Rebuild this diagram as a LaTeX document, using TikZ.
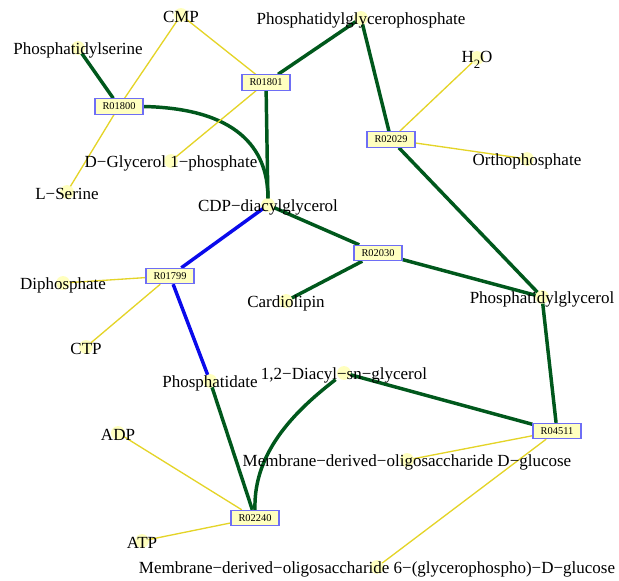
\documentclass[tikz,border=0pt]{standalone}
\usepackage{fontspec}
\setmainfont{Liberation Serif}
\pgfdeclarelayer{bg}
\pgfsetlayers{bg,main}
\definecolor{mainflow}{RGB}{0,88,28}
\definecolor{sideflow}{RGB}{228,212,40}
\definecolor{blueflow}{RGB}{10,10,235}
\definecolor{dotfill}{RGB}{255,255,190}
\definecolor{rxnfill}{RGB}{255,255,192}
\definecolor{rxnborder}{RGB}{110,110,245}
\tikzset{
  cpd/.style={inner sep=0pt, anchor=center, yshift=-1.5pt, font=\fontsize{12.75}{14}\selectfont},
  rxn/.style={draw=rxnborder, fill=rxnfill, line width=0.8pt, minimum width=36pt,
    minimum height=11.5pt, inner sep=0pt, font=\fontsize{7.8}{9}\selectfont},
  main/.style={draw=mainflow, line width=2.6pt},
  side/.style={draw=sideflow, line width=1pt},
  blue/.style={draw=blueflow, line width=2.6pt},
  tocpd/.style={shorten >=5pt},
}
\begin{document}
\begin{tikzpicture}[x=0.75pt,y=-0.75pt]
\useasboundingbox (0,0) rectangle (619,581);

% compounds (labels sit slightly below their anchor point)
\coordinate (cmp)  at (181,15);
\coordinate (pgp)  at (361,18);
\coordinate (ps)   at (78,48);
\coordinate (h2o)  at (477,58);
\coordinate (g1p)  at (171,161);
\coordinate (pi)   at (527,159);
\coordinate (ser)  at (67,192);
\coordinate (cdp)  at (268,205);
\coordinate (cl)   at (286,301);
\coordinate (pg)   at (542,297);
\coordinate (ppi)  at (63,283);
\coordinate (ctp)  at (86,347);
\coordinate (pa)   at (210,381);
\coordinate (dag)  at (344,373);
\coordinate (adp)  at (118,433);
\coordinate (atp)  at (142,541);
\coordinate (mdo)  at (407,460);
\coordinate (mdop) at (377,567);

\node[cpd] (cmpL)  at (cmp)  {CMP};
\node[cpd] (pgpL)  at (pgp)  {Phosphatidylglycerophosphate};
\node[cpd] (psL)   at (ps)   {Phosphatidylserine};
\node[cpd] (h2oL)  at (h2o)  {H\raisebox{-4pt}{\fontsize{9.5}{10}\selectfont 2}O};
\node[cpd] (g1pL)  at (g1p)  {D−Glycerol 1−phosphate};
\node[cpd] (piL)   at (pi)   {Orthophosphate};
\node[cpd] (serL)  at (ser)  {L−Serine};
\node[cpd] (cdpL)  at (cdp)  {CDP−diacylglycerol};
\node[cpd] (clL)   at (cl)   {Cardiolipin};
\node[cpd] (pgL)   at (pg)   {Phosphatidylglycerol};
\node[cpd] (ppiL)  at (ppi)  {Diphosphate};
\node[cpd] (ctpL)  at (ctp)  {CTP};
\node[cpd] (paL)   at (pa)   {Phosphatidate};
\node[cpd] (dagL)  at (dag)  {1,2−Diacyl−sn−glycerol};
\node[cpd] (adpL)  at (adp)  {ADP};
\node[cpd] (atpL)  at (atp)  {ATP};
\node[cpd] (mdoL)  at (mdo)  {Membrane−derived−oligosaccharide D−glucose};
\node[cpd] (mdopL) at (mdop) {Membrane−derived−oligosaccharide 6−(glycerophospho)−D−glucose};

% reactions
\node[rxn] (r01800) at (119,106.5) {R01800};
\node[rxn] (r01801) at (266,82.5)  {R01801};
\node[rxn] (r02029) at (391,139.5) {R02029};
\node[rxn] (r01799) at (170,276)   {R01799};
\node[rxn] (r02030) at (378,253)   {R02030};
\node[rxn] (r02240) at (255,518)   {R02240};
\node[rxn] (r04511) at (557,431)   {R04511};

\begin{pgfonlayer}{bg}
  % highlight dots behind the compound labels
  \foreach \c in {cmp,pgp,ps,h2o,g1p,pi,ser,cdp,cl,pg,ppi,ctp,pa,dag,adp,atp,mdo,mdop}
    \fill[dotfill] (\c) circle (5.2pt);

  % R01800
  \draw[main,tocpd] (r01800) -- (ps);
  \draw[main,tocpd] (r01800.east) .. controls +(92,2) and +(0,-58) .. (cdp);
  \draw[side,tocpd] (r01800) -- (cmp);
  \draw[side,tocpd] (r01800) -- (ser);
  % R01801
  \draw[side,tocpd] (r01801) -- (cmp);
  \draw[side,tocpd] (r01801) -- (g1p);
  \draw[main,tocpd] (r01801) -- (cdp);
  \draw[main,tocpd] (r01801) -- (pgp);
  % R02029
  \draw[main,tocpd] (r02029) -- (pgp);
  \draw[side,tocpd] (r02029) -- (h2o);
  \draw[side,tocpd] (r02029) -- (pi);
  \draw[main,tocpd] (r02029) -- (pg);
  % R02030
  \draw[main,tocpd] (r02030) -- (cdp);
  \draw[main,tocpd] (r02030) -- (cl);
  \draw[main,tocpd] (r02030) -- (pg);
  % R01799
  \draw[blue,tocpd] (r01799) -- (cdp);
  \draw[blue,tocpd] (r01799) -- (pa);
  \draw[side,tocpd] (r01799) -- (ppi);
  \draw[side,tocpd] (r01799) -- (ctp);
  % R02240
  \draw[main,tocpd] (r02240) -- (pa);
  \draw[main,shorten >=8pt] (r02240.north) .. controls +(-2,-60) and +(-45,35) .. (dag);
  \draw[side,tocpd] (r02240) -- (adp);
  \draw[side,tocpd] (r02240) -- (atp);
  % R04511
  \draw[main,tocpd] (r04511) -- (pg);
  \draw[main,tocpd] (r04511) -- (dag);
  \draw[side,tocpd] (r04511) -- (mdo);
  \draw[side,tocpd] (r04511) -- (mdop);
\end{pgfonlayer}
\end{tikzpicture}
\end{document}
